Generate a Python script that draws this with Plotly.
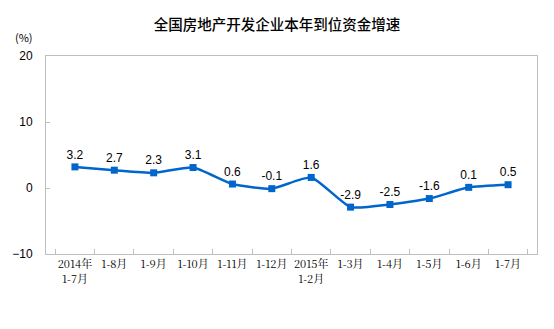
import plotly.graph_objects as go

categories = ["2014年<br>1-7月", "1-8月", "1-9月", "1-10月", "1-11月", "1-12月",
              "2015年<br>1-2月", "1-3月", "1-4月", "1-5月", "1-6月", "1-7月"]
values = [3.2, 2.7, 2.3, 3.1, 0.6, -0.1, 1.6, -2.9, -2.5, -1.6, 0.1, 0.5]
y_ticks = [-10, 0, 10, 20]

fig = go.Figure()
fig.add_trace(go.Scatter(
    x=categories, y=values,
    mode="lines+markers+text",
    line=dict(color="#0066CC", width=2.5, shape="spline", smoothing=0.5),
    marker=dict(symbol="square", size=7, color="#0066CC"),
    text=[f"{v:.1f}" for v in values],
    textposition="top center",
    textfont=dict(family="Arial, Liberation Sans", size=12, color="#000000"),
    cliponaxis=False,
))

fig.update_layout(
    width=554, height=329,
    margin=dict(l=44, r=17, t=56, b=75),
    paper_bgcolor="white", plot_bgcolor="white",
    showlegend=False,
    title=dict(text="全国房地产开发企业本年到位资金增速", x=0.5, xanchor="center",
               y=0.925, yanchor="middle",
               font=dict(family="Noto Sans CJK SC", size=14.5, color="#000000", weight=500)),
    xaxis=dict(
        type="category", showline=True, linecolor="#BFBFBF", linewidth=1,
        mirror=True, ticks="inside", tickson="boundaries", ticklen=5,
        tickcolor="#BFBFBF", showgrid=False, tickangle=0,
        tickfont=dict(family="Noto Serif CJK SC, Noto Sans CJK SC", size=11, color="#000000"),
    ),
    yaxis=dict(
        range=[-10, 20], tickvals=y_ticks, showline=True, linecolor="#BFBFBF",
        linewidth=1, mirror=True, ticks="inside", ticklen=4, tickcolor="#BFBFBF",
        showgrid=False, zeroline=False, ticklabelstandoff=10,
        tickfont=dict(family="Arial, Liberation Sans", size=12, color="#000000"),
    ),
    annotations=[dict(text="(%)", xref="paper", yref="paper", x=-0.0446, y=1.096,
                      xanchor="center", yanchor="middle", showarrow=False,
                      font=dict(family="Noto Sans CJK SC", size=11, color="#000000"))],
)

fig.write_html("out.html")
